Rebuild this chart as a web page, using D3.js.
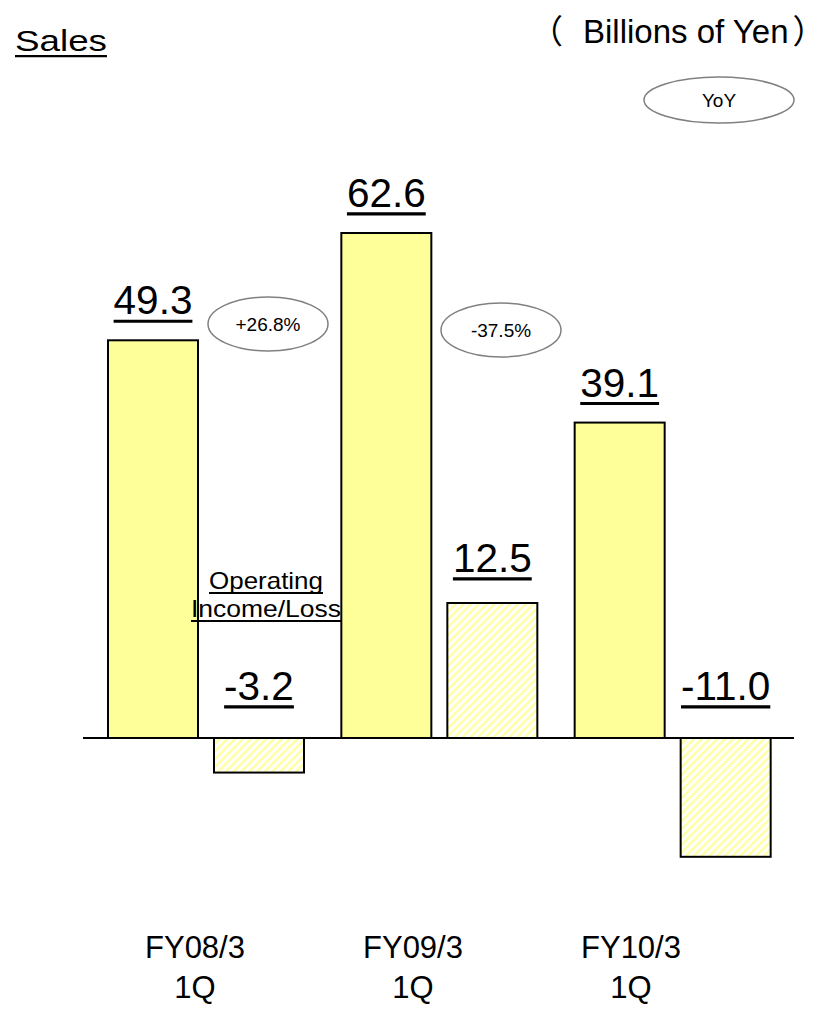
<!DOCTYPE html>
<html>
<head>
<meta charset="utf-8">
<script src="https://cdn.jsdelivr.net/npm/d3@7"></script>
<style>
  html, body { margin: 0; padding: 0; background: #fff; }
  svg { display: block; font-family: "Liberation Sans", Arial, "Noto Sans CJK JP", sans-serif; }
</style>
</head>
<body>
<svg id="chart" width="837" height="1014"></svg>
<script>
// Quarterly figures, billions of yen
const categories = ["FY08/3\n1Q", "FY09/3\n1Q", "FY10/3\n1Q"];
const salesValues = [49.3, 62.6, 39.1];
const opIncomeValues = [-3.2, 12.5, -11.0];
const yoyLabels = ["+26.8%", "-37.5%"];

const svg = d3.select("#chart");

// Hatch used for the operating income bars
const defs = svg.append("defs");
const pat = defs.append("pattern")
  .attr("id", "hatch")
  .attr("patternUnits", "userSpaceOnUse")
  .attr("width", 5.5).attr("height", 5.5)
  .attr("patternTransform", "rotate(45)");
pat.append("rect").attr("width", 5.5).attr("height", 5.5).attr("fill", "#fff");
pat.append("rect").attr("width", 2.6).attr("height", 5.5).attr("fill", "#ffffa6");

const x = d3.scaleBand().domain(categories).range([108, 808]);
const xLabel = d3.scaleBand().domain(categories).range([86, 740]);
const barW = 90;
const opOffset = 106;

const ySales = d3.scaleLinear().domain([0, 62.6]).range([738, 233]);
const yOp = d3.scaleLinear().domain([0, 12.5]).range([738, 603]);

const fmt = v => v.toFixed(1);

function underlinedText(g, tx, ty, str, size, anchor, len) {
  const t = g.append("text")
    .attr("x", tx).attr("y", ty)
    .attr("text-anchor", anchor || "middle")
    .attr("font-size", size)
    .attr("fill", "#000")
    .text(str);
  if (len) t.attr("textLength", len).attr("lengthAdjust", "spacingAndGlyphs");
  const bb = t.node().getBBox();
  g.append("line")
    .attr("x1", bb.x).attr("x2", bb.x + bb.width)
    .attr("y1", ty + size * 0.17).attr("y2", ty + size * 0.17)
    .attr("stroke", "#000").attr("stroke-width", Math.max(2, size * 0.075));
  return t;
}

// Title and unit
const head = svg.append("g");
underlinedText(head, 15, 51, "Sales", 30, "start", 92);
head.append("text")
  .attr("x", 563).attr("y", 43)
  .attr("text-anchor", "end")
  .attr("font-size", 33)
  .text("（");
const unit = head.append("text")
  .attr("x", 583).attr("y", 43)
  .attr("font-size", 33);
unit.append("tspan").text("Billions of Yen");
unit.append("tspan").attr("dx", 4).text("）");

// Oval callout
function bubble(cx, cy, rx, ry, label, size) {
  svg.append("ellipse")
    .attr("cx", cx).attr("cy", cy).attr("rx", rx).attr("ry", ry)
    .attr("fill", "#fff").attr("stroke", "#808080").attr("stroke-width", 1.5);
  svg.append("text")
    .attr("x", cx).attr("y", cy + size * 0.36)
    .attr("text-anchor", "middle").attr("font-size", size)
    .text(label);
}
bubble(719, 100, 75, 23, "YoY", 19);

// Sales bars
svg.append("g").selectAll("rect")
  .data(salesValues)
  .join("rect")
  .attr("x", (d, i) => x(categories[i]))
  .attr("y", d => ySales(d))
  .attr("width", barW)
  .attr("height", d => ySales(0) - ySales(d))
  .attr("fill", "#ffff99")
  .attr("stroke", "#000").attr("stroke-width", 2);

// Operating income bars
svg.append("g").selectAll("rect")
  .data(opIncomeValues)
  .join("rect")
  .attr("x", (d, i) => x(categories[i]) + opOffset)
  .attr("y", d => yOp(Math.max(0, d)))
  .attr("width", barW)
  .attr("height", d => Math.abs(yOp(d) - yOp(0)))
  .attr("fill", "url(#hatch)")
  .attr("stroke", "#000").attr("stroke-width", 2);

// Zero line
svg.append("line")
  .attr("x1", 83).attr("x2", 794)
  .attr("y1", ySales(0)).attr("y2", ySales(0))
  .attr("stroke", "#000").attr("stroke-width", 2);

// Value labels
const labels = svg.append("g");
salesValues.forEach((v, i) => {
  underlinedText(labels, x(categories[i]) + barW / 2, ySales(v) - 26, fmt(v), 40.5);
});
opIncomeValues.forEach((v, i) => {
  const cx = x(categories[i]) + opOffset + barW / 2;
  const ty = v >= 0 ? yOp(v) - 31 : yOp(0) - 38;
  underlinedText(labels, cx, ty, fmt(v), 40.5);
});

// Operating income caption
const cap = svg.append("g");
underlinedText(cap, 266, 589, "Operating", 24, "middle", 114);
underlinedText(cap, 266, 617, "Income/Loss", 24, "middle", 150);

// YoY change between consecutive quarters
const bubblePos = [[268, 324], [501, 330]];
yoyLabels.forEach((lab, i) => {
  bubble(bubblePos[i][0], bubblePos[i][1], 60, 27, lab, 19);
});

// Category labels
const catG = svg.append("g");
categories.forEach(c => {
  const t = catG.append("text")
    .attr("text-anchor", "middle")
    .attr("font-size", 31);
  c.split("\n").forEach((line, k) => {
    t.append("tspan")
      .attr("x", xLabel(c) + xLabel.bandwidth() / 2)
      .attr("y", 958 + k * 40)
      .text(line);
  });
});
</script>
</body>
</html>
